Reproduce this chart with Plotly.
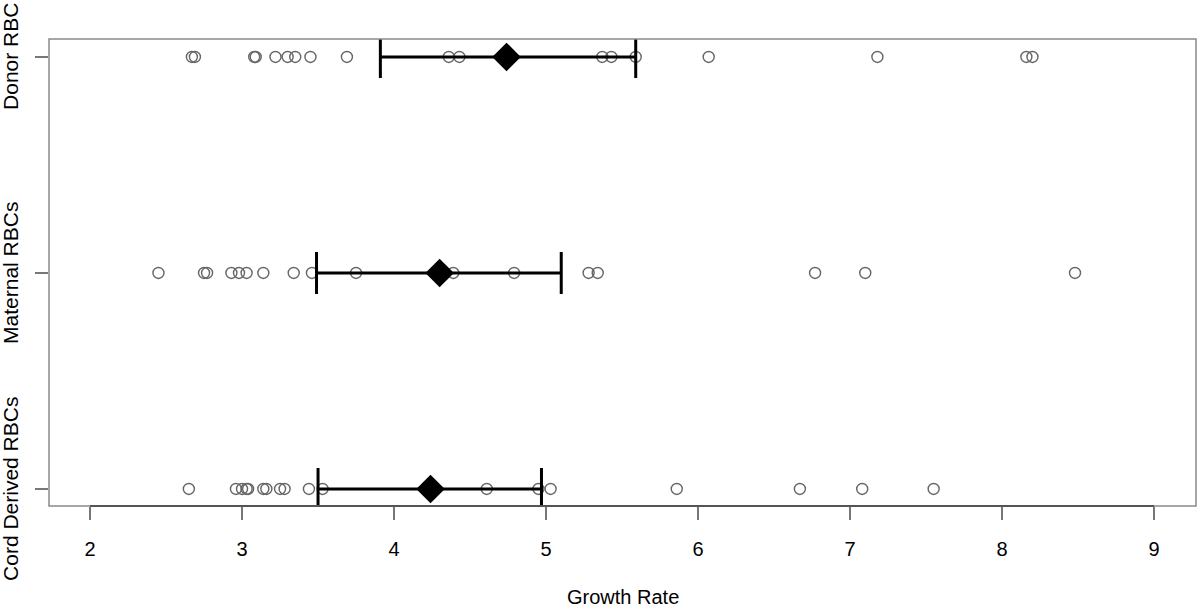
import plotly.graph_objects as go

# ---- data ----
categories = ["Cord Derived RBCs", "Maternal RBCs", "Donor RBC"]  # bottom -> top
cord_values = [2.65, 2.96, 3.00, 3.03, 3.04, 3.14, 3.16, 3.25, 3.28, 3.44, 3.53,
               4.61, 4.95, 5.03, 5.86, 6.67, 7.08, 7.55]
maternal_values = [2.45, 2.75, 2.77, 2.93, 2.98, 3.03, 3.14, 3.34, 3.46, 3.75,
                   4.39, 4.79, 5.28, 5.34, 6.77, 7.10, 8.48]
donor_values = [2.67, 2.69, 3.08, 3.09, 3.22, 3.30, 3.35, 3.45, 3.69, 4.36, 4.43,
                5.37, 5.43, 5.59, 6.07, 7.18, 8.16, 8.20]
means = [4.24, 4.30, 4.74]
ci_lower = [3.50, 3.49, 3.91]
ci_upper = [4.97, 5.10, 5.59]
x_ticks = [2, 3, 4, 5, 6, 7, 8, 9]
x_title = "Growth Rate"

FONT = "Liberation Sans, Arial, Helvetica, sans-serif"
GRAY_PT = "#666666"

fig = go.Figure()

series = [cord_values, maternal_values, donor_values]
for i, vals in enumerate(series):
    fig.add_trace(go.Scatter(
        x=vals, y=[i + 1] * len(vals), mode="markers",
        marker=dict(symbol="circle-open", size=11, color=GRAY_PT,
                    line=dict(width=1.4, color=GRAY_PT)),
        showlegend=False, hoverinfo="x"))

ypos = [i + 1 for i in range(len(categories))]
fig.add_trace(go.Scatter(
    x=means, y=ypos, mode="markers",
    marker=dict(symbol="diamond", size=22, color="black",
                line=dict(width=0)),
    error_x=dict(type="data", symmetric=False,
                 array=[u - m for u, m in zip(ci_upper, means)],
                 arrayminus=[m - l for m, l in zip(means, ci_lower)],
                 color="black", thickness=3, width=21),
    showlegend=False, hoverinfo="x"))

# frame
fig.add_shape(type="rect", xref="paper", yref="paper", x0=0, x1=1, y0=0, y1=1,
              line=dict(color="#8a8a8a", width=1.5), layer="above")
# bottom axis line between first and last tick
fig.add_shape(type="line", xref="x", yref="paper", x0=x_ticks[0], x1=x_ticks[-1],
              y0=0, y1=0, line=dict(color="#555555", width=1.8), layer="above")

for i, c in enumerate(categories):
    fig.add_annotation(text=c, xref="paper", yref="y", x=0, y=i + 1,
                       xanchor="center", yanchor="middle", xshift=-38,
                       textangle=-90, showarrow=False,
                       font=dict(family=FONT, size=21, color="black"))

fig.add_annotation(text=x_title, xref="paper", yref="paper", x=0.5, y=0,
                   xanchor="center", yanchor="middle", yshift=-91,
                   showarrow=False, font=dict(family=FONT, size=20, color="black"))

fig.update_layout(
    width=1200, height=609,
    margin=dict(l=49, r=4, t=39, b=103),
    paper_bgcolor="white", plot_bgcolor="white",
    font=dict(family=FONT, size=20, color="black"),
    xaxis=dict(range=[1.73, 9.276], tickvals=x_ticks, ticks="outside",
               ticklen=13, tickwidth=1.5, tickcolor="#777777",
               showgrid=False, zeroline=False, showline=False,
               tickfont=dict(family=FONT, size=20, color="black"),
               ticklabelstandoff=12),
    yaxis=dict(range=[0.921, 3.083], tickvals=ypos, ticktext=["", "", ""],
               ticks="outside", ticklen=13, tickwidth=1.5, tickcolor="#777777",
               showgrid=False, zeroline=False, showline=False),
)

# remove the browser's default page margin so the figure fills the window
fig.write_html("out.html",
               config={"displayModeBar": False},
               post_script="document.body.style.margin='0';document.body.style.overflow='hidden';")
